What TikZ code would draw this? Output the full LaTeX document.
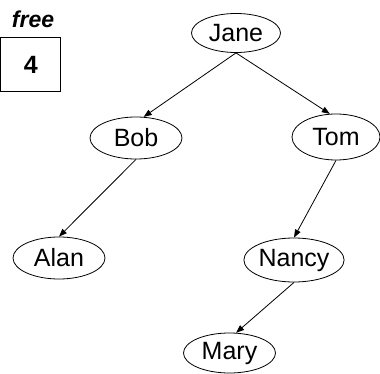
\documentclass[tikz,border=0pt]{standalone}
\usepackage{fontspec}
\setmainfont{Liberation Sans}
\usetikzlibrary{shapes.geometric,arrows.meta}
\begin{document}
\begin{tikzpicture}[x=1pt,y=-1pt,
  person/.style={ellipse,draw,line width=0.8pt,minimum width=92pt,minimum height=42pt,inner sep=0pt,font=\fontsize{25}{25}\selectfont},
  link/.style={draw,line width=0.8pt,-{Triangle[length=8pt,width=6pt]}}]
\useasboundingbox (0,0) rectangle (380,374);
% free-list counter
\node (freelbl) at (33,19) {\fontsize{23}{23}\selectfont\bfseries\itshape free};
\node (freebox) [draw,line width=0.8pt,minimum width=60pt,minimum height=54pt,inner sep=0pt,anchor=north west] at (0.4,37.5) {\fontsize{25}{25}\selectfont\bfseries 4};
% tree nodes
\node[person,minimum width=89pt,minimum height=39pt] (jane) at (236,33) {Jane};
\node[person] (bob) at (136,138) {Bob};
\node[person,minimum width=88pt,minimum height=46pt] (tom) at (336,137) {Tom};
\node[person] (alan) at (59,258) {Alan};
\node[person,minimum width=94pt,minimum height=44pt] (nancy) at (294,260) {Nancy};
\node[person,minimum height=40pt] (mary) at (229.5,353) {Mary};
% links
\draw[link] (jane.south) -- (bob.70);
\draw[link] (jane.south) -- (tom.105);
\draw[link] (bob.south) -- (alan.north);
\draw[link] (tom.south) -- (nancy.north);
\draw[link] (nancy.south) -- (mary.72);
\end{tikzpicture}
\end{document}
